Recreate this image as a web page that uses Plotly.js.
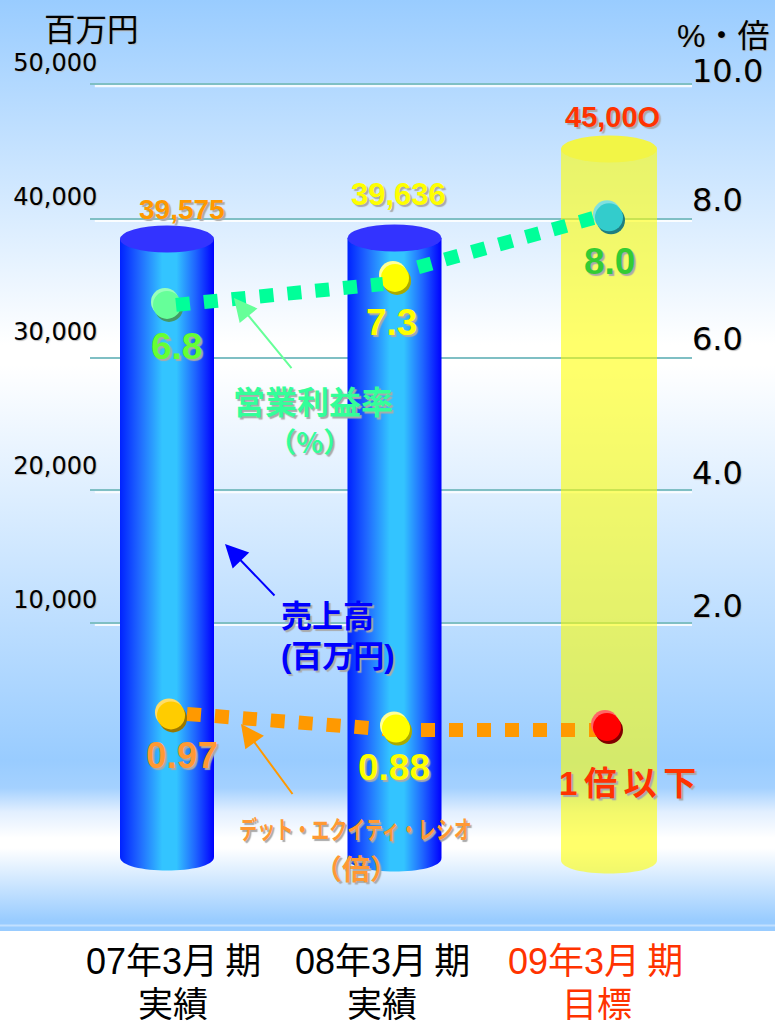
<!DOCTYPE html>
<html>
<head>
<meta charset="utf-8">
<script src="https://cdn.plot.ly/plotly-3.0.1.min.js"></script>
<style>
html,body{margin:0;padding:0;background:#fff;overflow:hidden}
#chart{width:775px;height:1024px;background:linear-gradient(to bottom,#99ccff 0,#ffffff 345px,#ffffff 365px,#99ccff 760px,#a4d1ff 788px,#e2efff 812px,#ffffff 838px,#ffffff 848px,#99ccff 920px,#99ccff 924px,#c2e0ff 925px,#c2e0ff 926px,#99ccff 927px,#99ccff 931px,#ffffff 931px)}
</style>
</head>
<body>
<div id="chart"></div>
<script>
// ---- data ----
const periods = ['07年3月\u2009期', '08年3月\u2009期', '09年3月\u2009期'];
const periodNotes = ['実績', '実績', '目標'];
const sales = [39575, 39636, 45000];
const salesLabels = ['39,575', '39,636', '45,00O'];
const marginLabels = ['6.8', '7.3', '8.0'];
const marginLevels = [6.72, 7.12, 8.02];
const debtLabels = ['0.97', '0.88', '1\u2009倍\u2009以\u2009下'];
const debtLevels = [0.97, 0.88, 0.89];
const leftTicks = [50000, 40000, 30000, 20000, 10000];
const leftTickText = ['50,000', '40,000', '30,000', '20,000', '10,000'];
const gridLevels = [10, 8, 5.936, 3.97, 2];
const rightTicks = [10, 8.07, 6, 4, 2];
const rightTickText = ['10.0', '8.0', '6.0', '4.0', '2.0'];

// ---- layout helpers ----
const W = 775, H = 1024, L = 90, R = 692;
const slots = [167, 394.5, 609];
const barWidths = [94, 94, 96];
const px = { sales: 0.01659, grid: 67.34, right: 66.9, left: 134.35 / 10000, debt: 146 };
const zero = { sales: 895.6, grid: 757.4, right: 740, left: 734.35, debt: 857 };
const rangeOf = k => [(zero[k] - H) / px[k], zero[k] / px[k]];
const X = p => (p - L) / (R - L);
const Y = p => 1 - p / H;
// the cylinders stand on a floor drawn above the axis zero
const floors = [857, 858, 860].map(p => (zero.sales - p) / px.sales);

const BLUE_CAP = 'rgb(1,2,253)';
function shapeCap(i, fill) {
  const a = slots[i] - barWidths[i] / 2, b = slots[i] + barWidths[i] / 2;
  const k = (4 / 3) * 13.5 / px.sales, f = floors[i];
  return {type:'path', xref:'x', yref:'y', layer:'below', line:{width:0}, fillcolor:fill,
    path:`M${a},${f} C${a},${f-k} ${b},${f-k} ${b},${f} Z`};
}
function topCap(i, fill) {
  const ry = 13.5 / px.sales;
  return {type:'circle', xref:'x', yref:'y', layer:'above', line:{width:0}, fillcolor:fill,
    x0:slots[i]-barWidths[i]/2, x1:slots[i]+barWidths[i]/2, y0:sales[i]-ry, y1:sales[i]+ry};
}
const whiteLines = gridLevels.map(v => ({type:'line', xref:'paper', yref:'y2', layer:'below',
  x0:0.008, x1:1, y0:v - 2.2/px.grid, y1:v - 2.2/px.grid, line:{color:'rgba(255,255,255,0.85)', width:2.2}}));

function balls(xs, ys, yaxis, scale, dx, dy, colors) {
  return {type:'scatter', mode:'markers', x:xs.map(v=>v+dx), y:ys.map(v=>v-dy/scale), yaxis:yaxis,
    marker:{size:28, color:colors, line:{width:0}}, hoverinfo:'skip'};
}
const mx = [167, 395, 609], dx2 = [171, 396, 607];

const traces = [
  {type:'bar', x:slots, y:sales.map((v,i)=>v-floors[i]), base:floors, width:barWidths, yaxis:'y', hoverinfo:'skip',
   marker:{color:['#0044ff','#0044ff','rgba(255,255,0,0.58)'], line:{width:0}}},
  {type:'scatter', mode:'none', x:[L,L,L,L,L], y:leftTicks, yaxis:'y3', hoverinfo:'skip'},
  {type:'scatter', mode:'none', x:[R,R,R,R,R], y:rightTicks, yaxis:'y5', hoverinfo:'skip'},
  {type:'scatter', mode:'lines', x:[187,395,null,421,600], y:[0.98,0.87,null,0.87,0.87], yaxis:'y4', connectgaps:false,
   line:{color:'#ff9900', width:14, dash:'14px,14px', shape:'linear'}, hoverinfo:'skip'},
  balls(mx, marginLevels, 'y2', px.grid, -2, -3, ['#99ffbb','#ffff99','#80e0e0']),
  balls(mx, marginLevels, 'y2', px.grid, 2, 3, ['#449966','#aaaa00','#1f7f80']),
  balls(mx, marginLevels, 'y2', px.grid, 0, 0, ['#66ff99','#ffff00','#33cccc']),
  balls(dx2, debtLevels, 'y4', px.debt, -2, -3, ['#ffdd66','#ffff99','#ff6666']),
  balls(dx2, debtLevels, 'y4', px.debt, 2, 3, ['#997700','#aaaa00','#800000']),
  balls(dx2, debtLevels, 'y4', px.debt, 0, 0, ['#ffcc00','#ffff00','#ff0000']),
  {type:'scatter', mode:'lines', x:[176,383,null,418,596], y:[6.72,7.03,null,7.28,8.02], yaxis:'y2', connectgaps:false,
   line:{color:'#00ff99', width:14, dash:'14px,14px'}, hoverinfo:'skip'}
];

const SH = '2px 2px 1px #aaaaaa';
const JP = '"Noto Sans CJK JP"';
const LAT = '"Liberation Sans","Noto Sans CJK JP"';
function label(text, x, y, size, color, bold, family, align) {
  return {text:text, xref:'paper', yref:'paper', x:X(x), y:Y(y), xanchor:align||'center', align:align||'center', yanchor:'middle', showarrow:false,
    font:{size:size, color:color, family:family||LAT, weight:bold?700:400, shadow:bold?SH:'1px 1px 1px #bbbbbb'}};
}
function arrow(tipX, tipY, tailX, tailY, color) {
  return {text:' ', font:{size:1}, xref:'paper', yref:'paper', x:X(tipX), y:Y(tipY), ax:tailX-tipX, ay:tailY-tipY,
    showarrow:true, arrowhead:2, arrowsize:2.3, arrowwidth:2, arrowcolor:color, standoff:0, startstandoff:0};
}
const annotations = [
  label('百万円', 91, 27, 31.5, '#000', false, JP),
  label('%・倍', 723, 36, 32, '#000', false, LAT),
  label(salesLabels[0], 182, 209, 28, '#ff9900', true),
  label(salesLabels[1], 398, 194, 31, '#ffff00', true),
  label(salesLabels[2], 612, 117, 29, '#ff3300', true),
  label(marginLabels[0], 176, 346, 37, '#66ff33', true),
  label(marginLabels[1], 391, 322, 37, '#ffff00', true),
  label(marginLabels[2], 609, 261, 37, '#33cc33', true),
  label(debtLabels[0], 182, 755, 37, '#ff9933', true),
  label(debtLabels[1], 394, 767, 37, '#ffff00', true),
  label(debtLabels[2], 627, 783, 33, '#ff3300', true),
  label('<span style="font-size:32px">営業利益率</span><br><span style="font-size:28px">（%）\u00a0</span>', 313, 419, 30, '#33ff99', true, JP),
  label('売上高<br>(百万円)', 279, 636, 31, '#0000ff', true, LAT, 'left'),
  label('デット・エクイティ・レシオ', 355, 828, 25, '#ff9933', true, JP),
  label('（倍）', 356, 868, 28, '#ff9933', true, JP),
  arrow(234, 298, 293, 370, '#66ff99'),
  arrow(225, 544, 276, 597, '#0000ff'),
  arrow(241, 724, 294, 796, '#ff9900')
];
const catX = [173, 382, 595], noteX = [173, 382, 597];
const catColors = ['#000000', '#000000', '#ff3300'];
periods.forEach((p, i) => {
  annotations.push({text:p, xref:'paper', yref:'paper', x:X(catX[i]), y:Y(961), xanchor:'center', yanchor:'middle', showarrow:false,
    font:{size:36, color:catColors[i], family:LAT}});
  annotations.push({text:periodNotes[i], xref:'paper', yref:'paper', x:X(noteX[i]), y:Y(1004), xanchor:'center', yanchor:'middle', showarrow:false,
    font:{size:35, color:catColors[i], family:LAT}});
});

const layout = {
  width:W, height:H, autosize:false, showlegend:false, barmode:'overlay',
  paper_bgcolor:'rgba(0,0,0,0)', plot_bgcolor:'rgba(0,0,0,0)',
  margin:{l:L, r:W-R, t:0, b:0, pad:0},
  xaxis:{range:[L,R], visible:false, fixedrange:true},
  yaxis:{range:rangeOf('sales'), visible:false, fixedrange:true},
  yaxis2:{overlaying:'y', side:'right', anchor:'x', range:rangeOf('grid'), fixedrange:true,
    tickmode:'array', tickvals:gridLevels, showticklabels:false, ticks:'', showline:false, zeroline:false,
    showgrid:true, gridcolor:'#7fbfc4', gridwidth:2},
  yaxis5:{overlaying:'y', side:'right', anchor:'free', position:1, range:rangeOf('right'), fixedrange:true,
    tickmode:'array', tickvals:rightTicks, ticktext:rightTickText, ticks:'', showline:false, showgrid:false, zeroline:false,
    ticklabelstandoff:-1, tickfont:{family:'"DejaVu Sans"', size:32, color:'#000', shadow:'1px 1px 1px #bbbbbb'}},
  yaxis3:{overlaying:'y', side:'left', anchor:'free', position:0.012, range:rangeOf('left'), fixedrange:true,
    tickmode:'array', tickvals:leftTicks, ticktext:leftTickText, ticks:'', showline:false, showgrid:false, zeroline:false,
    tickfont:{family:'"DejaVu Sans"', size:24, color:'#000', shadow:'1px 1px 1px #bbbbbb'}},
  yaxis4:{overlaying:'y', range:rangeOf('debt'), visible:false, fixedrange:true},
  shapes:[...whiteLines, shapeCap(0,BLUE_CAP), shapeCap(1,BLUE_CAP), shapeCap(2,'rgba(255,255,0,0.58)'),
    topCap(0,'#3333ff'), topCap(1,'#3333ff'), topCap(2,'#f2f546')],
  annotations:annotations
};

Plotly.newPlot('chart', traces, layout, {displayModeBar:false, staticPlot:true}).then(gd => {
  // cylinder shading: a horizontal gradient on the blue bars and their lower caps
  const svg = gd.querySelector('svg.main-svg');
  const NS = 'http://www.w3.org/2000/svg';
  const g = document.createElementNS(NS, 'linearGradient');
  g.setAttribute('id', 'cyl');
  [['0%','#0022ff'],['20%','#1f66ff'],['45%','#33c4ff'],['60%','#33c4ff'],['80%','#1f66ff'],['100%','#0000ff']].forEach(s => {
    const st = document.createElementNS(NS, 'stop');
    st.setAttribute('offset', s[0]); st.setAttribute('stop-color', s[1]); g.appendChild(st);
  });
  let defs = svg.querySelector('defs');
  if (!defs) { defs = document.createElementNS(NS, 'defs'); svg.insertBefore(defs, svg.firstChild); }
  defs.appendChild(g);
  const barPaths = gd.querySelectorAll('.bars .point path');
  [0,1].forEach(i => { if (barPaths[i]) barPaths[i].style.fill = 'url(#cyl)'; });
  gd.querySelectorAll('.shapelayer path').forEach(p => {
    if (p.style.fill.replace(/\s/g,'') === BLUE_CAP) p.style.fill = 'url(#cyl)';
  });
  // the reference sets this one caption in a condensed face
  gd.querySelectorAll('.annotation-text').forEach(t => {
    if (t.textContent.indexOf('デット') === 0) {
      t.style.transformBox = 'fill-box';
      t.style.transformOrigin = 'center';
      t.style.transform = 'scaleX(0.72)';
    }
  });
});
</script>
</body>
</html>
